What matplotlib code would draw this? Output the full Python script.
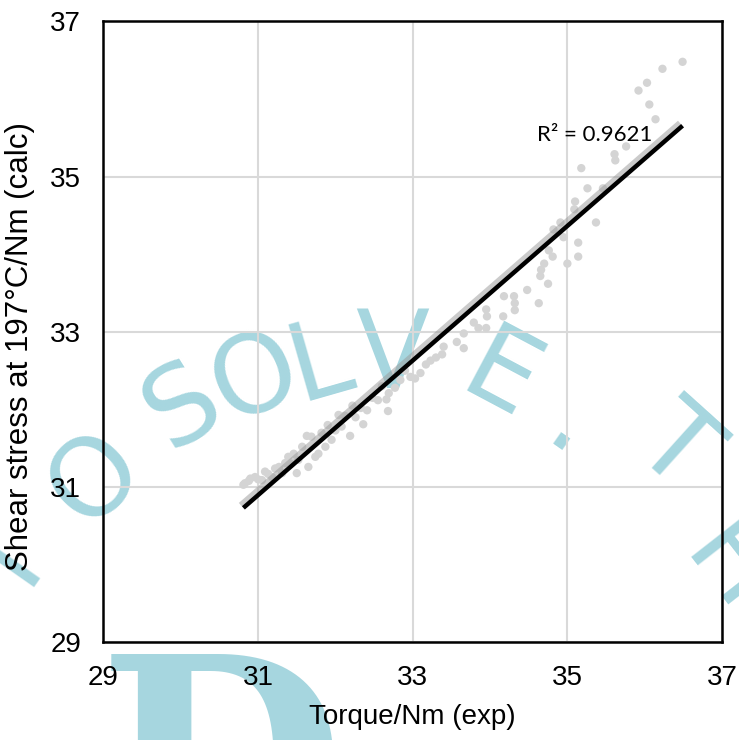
import numpy as np
import matplotlib.pyplot as plt
import matplotlib.patheffects as pe

# measured torque vs. calculated shear stress
torque_exp = [
    30.81, 30.83, 30.88, 30.90, 30.96, 31.00, 31.05, 31.09, 31.13, 31.18,
    31.22, 31.27, 31.31, 31.35, 31.39, 31.42, 31.46, 31.50, 31.52, 31.57,
    31.63, 31.65, 31.69, 31.74, 31.78, 31.82, 31.87, 31.90, 31.95, 32.00,
    32.04, 32.08, 32.12, 32.19, 32.22, 32.26, 32.33, 32.36, 32.41, 32.48,
    32.55, 32.60, 32.66, 32.68, 32.69, 32.77, 32.84, 32.90, 32.97, 33.03,
    33.10, 33.17, 33.23, 33.30, 33.38, 33.40, 33.57, 33.66, 33.66, 33.79,
    33.85, 33.95, 33.95, 33.96, 34.17, 34.18, 34.31, 34.32, 34.32, 34.48,
    34.63, 34.65, 34.66, 34.70, 34.75, 34.76, 34.81, 34.82, 34.91, 34.95,
    35.00, 35.09, 35.10, 35.14, 35.14, 35.18, 35.26, 35.37, 35.46, 35.61,
    35.62, 35.76, 35.92, 36.03, 36.06, 36.14, 36.23, 36.49,
]
shear_calc = [
    31.03, 31.05, 31.08, 31.11, 31.13, 31.10, 31.09, 31.20, 31.17, 31.13,
    31.24, 31.26, 31.18, 31.31, 31.39, 31.30, 31.43, 31.18, 31.35, 31.52,
    31.66, 31.26, 31.65, 31.39, 31.43, 31.70, 31.52, 31.80, 31.61, 31.73,
    31.93, 31.78, 31.92, 31.66, 32.05, 31.90, 32.02, 31.81, 31.99, 32.15,
    32.12, 32.30, 32.13, 31.98, 32.21, 32.28, 32.38, 32.50, 32.42, 32.40,
    32.47, 32.58, 32.63, 32.67, 32.71, 32.81, 32.87, 32.79, 32.98, 33.12,
    33.05, 33.05, 33.29, 33.20, 33.20, 33.46, 33.46, 33.37, 33.28, 33.54,
    33.37, 33.72, 33.80, 33.88, 33.62, 34.05, 33.97, 34.32, 34.41, 34.22,
    33.88, 34.58, 34.68, 34.15, 33.97, 35.11, 34.85, 34.41, 34.85, 35.29,
    35.21, 35.39, 36.11, 36.21, 35.93, 35.74, 36.39, 36.48,
]

# linear trendline
trend_slope = 0.867
trend_intercept = 4.02
r_squared = 0.9621

ticks = [29, 31, 33, 35, 37]

x = np.array(torque_exp)
y = np.array(shear_calc)

W, H = 739, 740
fig = plt.figure(figsize=(W / 100, H / 100), dpi=100)
ax = fig.add_axes([0.140, 0.132, 0.837, 0.839])
ax.set_facecolor('none')

# watermark letters along an arc (pixel centre, rotation)
wm_color = '#a6d6df'
letters = [
    ('T', 12, 565, 55), ('O', 95, 478, 45), ('S', 183, 407, 32),
    ('O', 256, 378, 24), ('L', 320, 364, 16), ('V', 392, 358, 0),
    ('E', 500, 380, -28), ('.', 572, 428, -35), ('T', 675, 448, -42),
    ('H', 728, 570, -52),
]
for ch, px, py, rot in letters:
    fig.text(px / W, 1 - py / H, ch, fontsize=78, color=wm_color,
             family='DejaVu Sans', rotation=rot, ha='center', va='center',
             rotation_mode='anchor', zorder=-5)
fig.text(98 / W, 1 - 862 / H, 'D', fontsize=205, color=wm_color,
         family='DejaVu Serif', weight='bold', ha='left', va='baseline',
         zorder=-5)

ax.scatter(x, y, s=36, color='#d4d4d4', edgecolors='none', zorder=3)

xfit = np.array([x.min(), x.max()])
yfit = trend_slope * xfit + trend_intercept
ax.plot(xfit, yfit, color='black', lw=3.2, solid_capstyle='butt', zorder=4,
        path_effects=[pe.SimpleLineShadow(offset=(-1.5, 1.5), shadow_color='#999999',
                                          alpha=0.5, linewidth=5.5),
                      pe.Normal()])

ax.text(34.61, 35.54, f'R\u00b2 = {r_squared}', fontsize=16, family='Lato',
        ha='left', va='center', zorder=5)

ax.set_xlim(29, 37)
ax.set_ylim(29, 37)
ax.set_xticks(ticks)
ax.set_yticks(ticks)
ax.grid(True, color='#d9d9d9', lw=1.5)
ax.set_axisbelow(True)
for s in ax.spines.values():
    s.set_linewidth(1.8)
    s.set_color('black')
ax.tick_params(length=0, labelsize=20, pad=16)
for lab in ax.get_xticklabels() + ax.get_yticklabels():
    lab.set_family('Liberation Sans')

ax.set_xlabel('Torque/Nm (exp)', fontsize=20, family='Liberation Sans', labelpad=10)
ax.set_ylabel('Shear stress at 197°C/Nm (calc)', fontsize=22.5,
              family='Liberation Sans')
ax.yaxis.set_label_coords(-0.11, 0.477)

fig.savefig('out.png', dpi=100)
